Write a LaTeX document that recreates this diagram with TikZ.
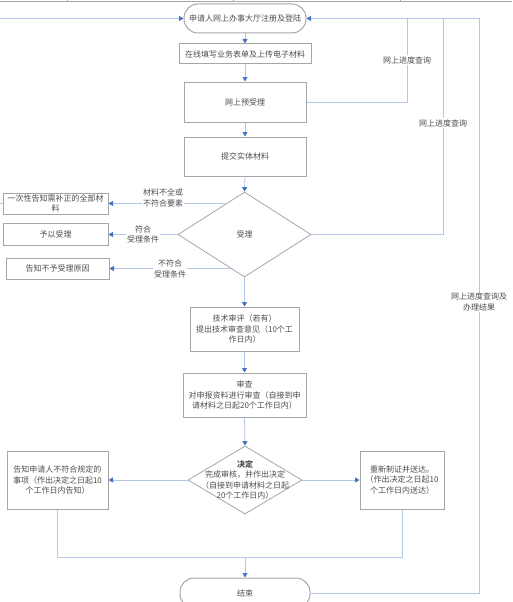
\documentclass[tikz,border=0pt]{standalone}
\usepackage{fontspec}
\setmainfont{Noto Sans CJK SC}
\usetikzlibrary{arrows.meta,shapes.geometric}
\definecolor{conn}{HTML}{B4C8E6}
\definecolor{tip}{HTML}{4472C4}
\definecolor{bord}{HTML}{A6A6A6}
\definecolor{txtc}{HTML}{4D4D4D}
\begin{document}
\begin{tikzpicture}[x=1pt,y=-1pt,
  font=\fontsize{8}{10.5}\selectfont, text=txtc,
  box/.style={draw=bord, line width=1pt, rectangle, align=center, inner sep=0.5pt},
  dia/.style={draw=bord, line width=0.8pt, diamond, inner sep=0pt},
  line/.style={draw=conn, line width=0.8pt},
  arr/.style={line, -{Triangle[length=4.5pt,width=5pt,color=tip,fill=tip]}},
  lab/.style={fill=white, inner sep=1pt, align=center}]
\useasboundingbox (0,0) rectangle (512,602);
% top border
\draw[bord, line width=0.8pt] (0,1) -- (512,1);
\foreach \x in {67,233,400} \draw[bord, line width=0.6pt] (\x,0) -- (\x,1);

% nodes
\node[box, rounded corners=14pt, minimum width=122pt, minimum height=29pt] (start) at (245,18.5) {申请人网上办事大厅注册及登陆};
\node[box, minimum width=132pt, minimum height=20pt] (form) at (245,54) {在线填写业务表单及上传电子材料};
\node[box, minimum width=122pt, minimum height=40pt] (pre) at (245,102) {网上预受理};
\node[box, minimum width=122pt, minimum height=39pt] (sub) at (245,156.5) {提交实体材料};
\node[dia, minimum width=133pt, minimum height=85pt] (acc) at (244.5,234.5) {};
\node (acct) at (acc) {受理};
\node[box, minimum width=105pt, minimum height=21pt, font=\fontsize{8}{10}\selectfont] (b1) at (55.5,203.5) {一次性告知需补正的全部材\\料};
\node[box, minimum width=105pt, minimum height=22pt] (b2) at (55.5,234.5) {予以受理};
\node[box, minimum width=103pt, minimum height=21pt] (b3) at (57.5,268.5) {告知不予受理原因};
\node[box, minimum width=109pt, minimum height=44pt] (tech) at (244.5,329) {技术审评（若有）\\提出技术审查意见（10个工\\作日内）};
\node[box, minimum width=123pt, minimum height=44pt] (rev) at (244.5,395) {审查\\对申报资料进行审查（自接到申\\请材料之日起20个工作日内）};
\node[dia, minimum width=114pt, minimum height=68pt] (dec) at (245,480) {};
\node[align=center] (dect) at (245,480) {\textbf{决定}\\完成审核，并作出决定\\（自接到申请材料之日起\\20个工作日内）};
\node[box, minimum width=101pt, minimum height=58pt] (no) at (57.5,480) {告知申请人不符合规定的\\事项（作出决定之日起10\\个工作日内告知）};
\node[box, minimum width=84pt, minimum height=58pt] (yes) at (402,480) {重新制证并送达。\\（作出决定之日起10\\个工作日内送达）};
\node[box, rounded corners=14pt, minimum width=130pt, minimum height=30pt] (end) at (245,593) {结束};

% main flow
\draw[arr] (start.south) -- (form.north);
\draw[arr] (form.south) -- (pre.north);
\draw[arr] (pre.south) -- (sub.north);
\draw[arr] (sub.south) -- (acc.north);
\draw[arr] (acc.south) -- (tech.north);
\draw[arr] (tech.south) -- (rev.north);
\draw[arr] (rev.south) -- (dec.north);
\draw[arr] (dec.west) -- (no.east);
\draw[arr] (dec.east) -- (yes.west);
\coordinate (m) at (245,557);
\draw[line] (no.south) |- (m);
\draw[line] (yes.south) |- (m);
\draw[arr] (m) -- (end.north);

% left branches of acceptance
\coordinate (a1) at (225,203.5);
\coordinate (a3) at (231,268.5);
\draw[arr] (a1) -- (b1.east);
\draw[arr] (acc.west) -- (b2.east);
\draw[arr] (a3) -- (b3.east);
\node[lab] (l1) at (163,198) {材料不全或\\不符合要素};
\node[lab] (l2) at (143,234.5) {符合\\受理条件};
\node[lab] (l3) at (170,269) {不符合\\受理条件};

% left loop
\coordinate (L0) at (0,18.5);
\coordinate (L1) at (0,203.5);
\draw[arr] (L0) -- (start.west);
\draw[line] (b1.west) -- (L1);

% right loops
\coordinate (r1) at (407,18.5);
\coordinate (r2) at (443,18.5);
\coordinate (r3) at (479,18.5);
\draw[line] (pre.east) -| (r1);
\draw[line] (acc.east) -| (r2);
\draw[line] (end.east) -| (r3);
\draw[arr] (r3) -- (start.east);
\node[lab] (q1) at (407,60) {网上进度查询};
\node[lab] (q2) at (443,123) {网上进度查询};
\node[lab] (q3) at (479,302) {网上进度查询及\\办理结果};
\end{tikzpicture}
\end{document}
